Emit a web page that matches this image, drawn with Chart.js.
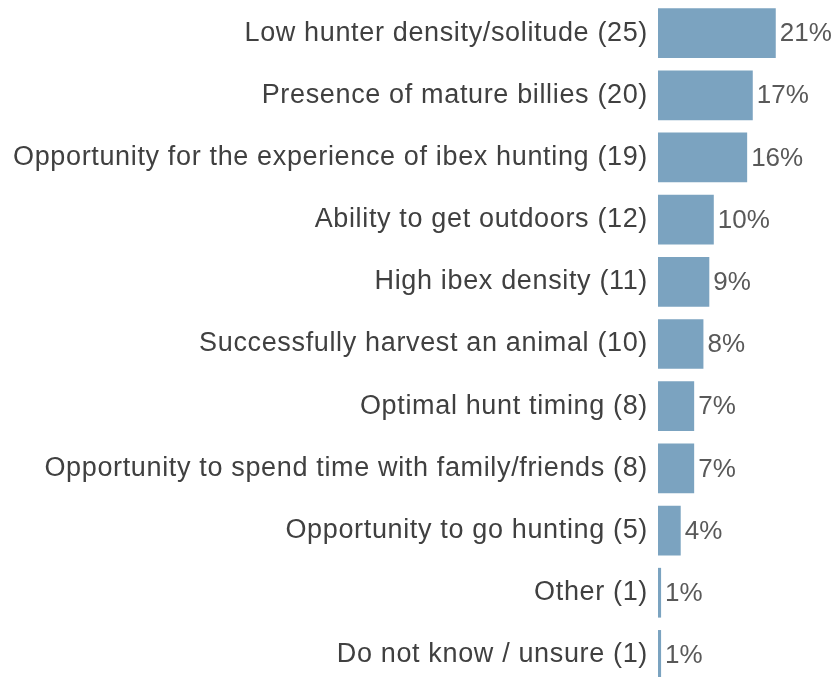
<!DOCTYPE html>
<html>
<head>
<meta charset="utf-8">
<script src="https://cdn.jsdelivr.net/npm/chart.js@4/dist/chart.umd.min.js"></script>
<style>
  html, body { margin: 0; padding: 0; background: #fff; overflow: hidden; }
  #wrap { width: 838px; height: 688px; }
</style>
</head>
<body>
<div id="wrap"><canvas id="myChart" width="838" height="688"></canvas></div>
<script>
// Dados
const categorias = [
  'Low hunter density/solitude (25)',
  'Presence of mature billies (20)',
  'Opportunity for the experience of ibex hunting (19)',
  'Ability to get outdoors (12)',
  'High ibex density (11)',
  'Successfully harvest an animal (10)',
  'Optimal hunt timing (8)',
  'Opportunity to spend time with family/friends (8)',
  'Opportunity to go hunting (5)',
  'Other (1)',
  'Do not know / unsure (1)'
];
// comprimento das barras (%)
const valores = [21.0, 16.9, 15.9, 9.95, 9.15, 8.1, 6.45, 6.45, 4.05, 0.55, 0.55];
// rotulos mostrados na ponta das barras
const rotulos = ['21%', '17%', '16%', '10%', '9%', '8%', '7%', '7%', '4%', '1%', '1%'];

const fonte = "'Liberation Sans', Arial, sans-serif";

// espacamento das letras dos nomes das categorias
const espacamento = {
  id: 'espacamento',
  beforeDraw(chart) {
    chart.ctx.letterSpacing = '0.65px';
  }
};

// escreve o % ao lado de cada barra
const rotuloBarras = {
  id: 'rotuloBarras',
  afterDatasetsDraw(chart) {
    const ctx = chart.ctx;
    const meta = chart.getDatasetMeta(0);
    ctx.save();
    ctx.letterSpacing = '0px';
    ctx.font = '26px ' + fonte;
    ctx.fillStyle = '#595959';
    ctx.textAlign = 'left';
    ctx.textBaseline = 'middle';
    meta.data.forEach((bar, i) => {
      ctx.fillText(rotulos[i], bar.x + 4, bar.y + 1);
    });
    ctx.restore();
  }
};

const ctx = document.getElementById('myChart');

new Chart(ctx, {
  type: 'bar',
  data: {
    labels: categorias,
    datasets: [{
      data: valores,
      backgroundColor: '#7ba3c0',
      borderWidth: 0,
      barPercentage: 0.8,
      categoryPercentage: 1.0
    }]
  },
  options: {
    indexAxis: 'y',
    responsive: false,
    animation: false,
    layout: {
      padding: { top: 2, bottom: 2, left: 0, right: 0 }
    },
    plugins: {
      legend: { display: false },
      tooltip: { enabled: false }
    },
    scales: {
      x: {
        display: false,
        min: 0,
        max: 32.1
      },
      y: {
        afterFit(scale) {
          scale.width = 658;
          scale.paddingTop = 0;
          scale.paddingBottom = 0;
        },
        grid: { display: false, drawTicks: false },
        border: { display: false },
        ticks: {
          padding: 10,
          color: '#404040',
          font: { size: 27, family: fonte }
        }
      }
    }
  },
  plugins: [espacamento, rotuloBarras]
});
</script>
</body>
</html>
